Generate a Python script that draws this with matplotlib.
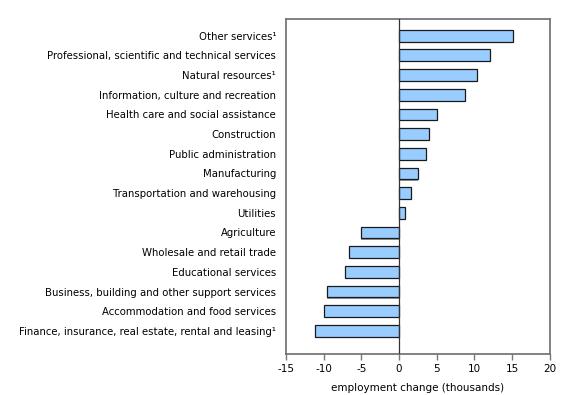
import numpy as np
import matplotlib
matplotlib.use('Agg')
import matplotlib.pyplot as plt

# Employment change by industry (thousands)
industries = [
    'Other services¹',
    'Professional, scientific and technical services',
    'Natural resources¹',
    'Information, culture and recreation',
    'Health care and social assistance',
    'Construction',
    'Public administration',
    'Manufacturing',
    'Transportation and warehousing',
    'Utilities',
    'Agriculture',
    'Wholesale and retail trade',
    'Educational services',
    'Business, building and other support services',
    'Accommodation and food services',
    'Finance, insurance, real estate, rental and leasing¹',
]
changes = [15.1, 12.1, 10.3, 8.8, 5.0, 4.0, 3.6, 2.5, 1.6, 0.8,
           -5.0, -6.7, -7.2, -9.5, -10.0, -11.2]
x_ticks = [-15, -10, -5, 0, 5, 10, 15, 20]

plt.rcParams['font.family'] = ['DejaVu Sans']

fig = plt.figure(figsize=(5.8, 3.95), dpi=100)
ax = fig.add_axes([0.493, 0.104, 0.455, 0.847])

y = np.arange(len(industries))
# light drop shadow behind each bar
ax.barh(y + 0.06, changes, height=0.6, color='#999999',
        edgecolor='none', zorder=1)
ax.barh(y, changes, height=0.6, color='#99CCFF', edgecolor='#1a1a1a',
        linewidth=0.9, zorder=2)
ax.axvline(0, color='#333333', linewidth=0.9, zorder=3)

ax.set_xlim(-15, 20)
ax.set_ylim(len(industries) - 1 + 1.17, -0.83)
ax.set_xticks(x_ticks)
ax.set_xticklabels([str(t) for t in x_ticks], fontsize=7.5)
ax.set_yticks(y)
ax.set_yticklabels(industries, fontsize=7.3)
ax.tick_params(axis='y', length=0, pad=7)
ax.tick_params(axis='x', length=4, width=1, color='#777777', pad=3)
ax.set_xlabel('employment change (thousands)', fontsize=7.5, labelpad=7)

for side in ['left', 'right', 'top', 'bottom']:
    ax.spines[side].set_color('#777777')
    ax.spines[side].set_linewidth(1.3)

fig.savefig('out.png', dpi=100)
